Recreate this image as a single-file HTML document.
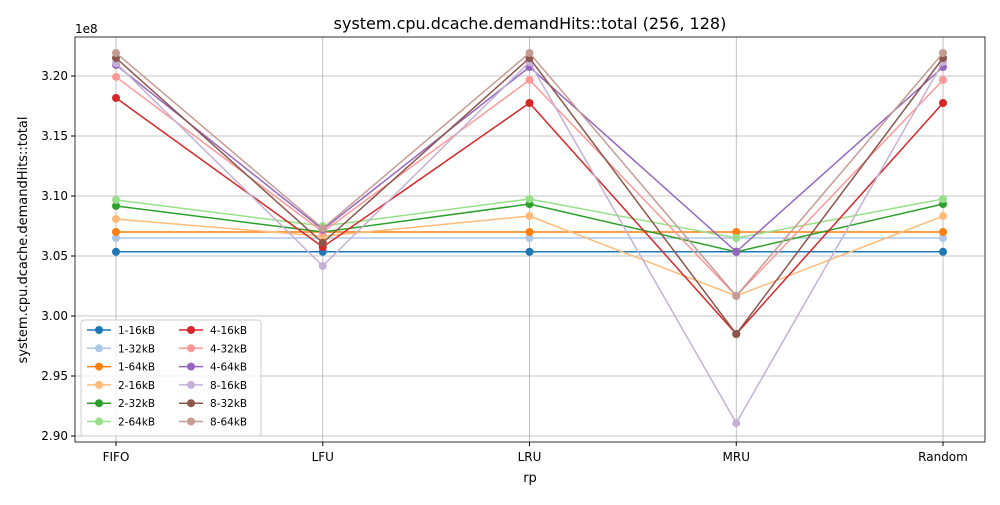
<!DOCTYPE html>
<html><head><meta charset="utf-8"><style>
body{margin:0;background:#fff;font-family:"Liberation Sans","DejaVu Sans",sans-serif}
svg text{font-family:"DejaVu Sans","Liberation Sans",sans-serif}
</style></head><body>
<svg id="c" width="1000" height="500" xmlns="http://www.w3.org/2000/svg"></svg>
<script>
const categories=["FIFO","LFU","LRU","MRU","Random"];
const seriesNames=["1-16kB","1-32kB","1-64kB","2-16kB","2-32kB","2-64kB","4-16kB","4-32kB","4-64kB","8-16kB","8-32kB","8-64kB"];
const colors=["#1f77b4","#aec7e8","#ff7f0e","#ffbb78","#2ca02c","#98df8a","#d62728","#ff9896","#9467bd","#c5b0d5","#8c564b","#c49c94"];
const s1_16=[3.0535,3.0535,3.0535,3.0535,3.0535];
const s1_32=[3.0650,3.0650,3.0650,3.0650,3.0650];
const s1_64=[3.0700,3.0700,3.0700,3.0700,3.0700];
const s2_16=[3.0808,3.0665,3.0833,3.0167,3.0833];
const s2_32=[3.0917,3.0700,3.0933,3.0535,3.0933];
const s2_64=[3.0967,3.0750,3.0975,3.0650,3.0975];
const s4_16=[3.1817,3.0575,3.1775,2.9850,3.1775];
const s4_32=[3.1992,3.0700,3.1967,3.0167,3.1967];
const s4_64=[3.2092,3.0720,3.2075,3.0535,3.2075];
const s8_16=[3.2108,3.0417,3.2117,2.9108,3.2117];
const s8_32=[3.2150,3.0610,3.2150,2.9850,3.2150];
const s8_64=[3.2192,3.0730,3.2192,3.0167,3.2192];
const series=[s1_16,s1_32,s1_64,s2_16,s2_32,s2_64,s4_16,s4_32,s4_64,s8_16,s8_32,s8_64];
const yTicks=[2.90,2.95,3.00,3.05,3.10,3.15,3.20];
const NS="http://www.w3.org/2000/svg",svg=document.getElementById('c');
const L=75,R=985,T=37,B=442;
const x=i=>116+i*(943-116)/(categories.length-1);
const y=v=>76+(3.20-v)*1200;
function el(t,a,p){const e=document.createElementNS(NS,t);for(const k in a)e.setAttribute(k,a[k]);(p||svg).appendChild(e);return e;}
// grid
yTicks.forEach(v=>{const g=el('line',{x1:L,x2:R,y1:y(v),y2:y(v),stroke:'#b0b0b0','stroke-width':0.8});

el('line',{x1:L-4,x2:L,y1:y(v),y2:y(v),stroke:'#000'});
const t=el('text',{x:L-7,y:y(v)+4,'text-anchor':'end','font-size':12});t.textContent=v.toFixed(2);
});
categories.forEach((c,i)=>{const g=el('line',{x1:x(i),x2:x(i),y1:T,y2:B,stroke:'#b0b0b0','stroke-width':0.8});

el('line',{x1:x(i),x2:x(i),y1:B,y2:B+4,stroke:'#000'});
const t=el('text',{x:x(i),y:B+19,'text-anchor':'middle','font-size':12});t.textContent=c;
});
series.forEach((s,k)=>{const g=el('g',{});

el('polyline',{points:s.map((v,i)=>x(i)+','+y(v)).join(' '),fill:'none',stroke:colors[k],'stroke-width':1.5},g);
s.forEach((v,i)=>{const p=el('circle',{cx:x(i),cy:y(v),r:4,fill:colors[k]},g);
});});
const fr=el('rect',{x:L,y:T,width:R-L,height:B-T,fill:'none',stroke:'#000','stroke-width':0.8});

let t=el('text',{x:530,y:29,'text-anchor':'middle','font-size':16});t.textContent='system.cpu.dcache.demandHits::total (256, 128)';

t=el('text',{x:530,y:482,'text-anchor':'middle','font-size':13});t.textContent='rp';

t=el('text',{x:27,y:240,'text-anchor':'middle','font-size':13,transform:'rotate(-90 27 240)'});t.textContent='system.cpu.dcache.demandHits::total';

t=el('text',{x:75,y:33,'font-size':12});t.textContent='1e8';

// legend
const lg=el('g',{});
el('rect',{x:81,y:320,width:180,height:116,rx:3,fill:'#fff','fill-opacity':0.8,stroke:'#ccc'},lg);
seriesNames.forEach((n,k)=>{const col=Math.floor(k/6),row=k%6;const lx=87+col*92,ly=330+row*18.3;
const e=el('g',{},lg);
el('line',{x1:lx,x2:lx+24,y1:ly,y2:ly,stroke:colors[k],'stroke-width':1.5},e);
el('circle',{cx:lx+12,cy:ly,r:4,fill:colors[k]},e);
const tt=el('text',{x:lx+31,y:ly+4,'font-size':10.5},e);tt.textContent=n;});
</script>
</body></html>
